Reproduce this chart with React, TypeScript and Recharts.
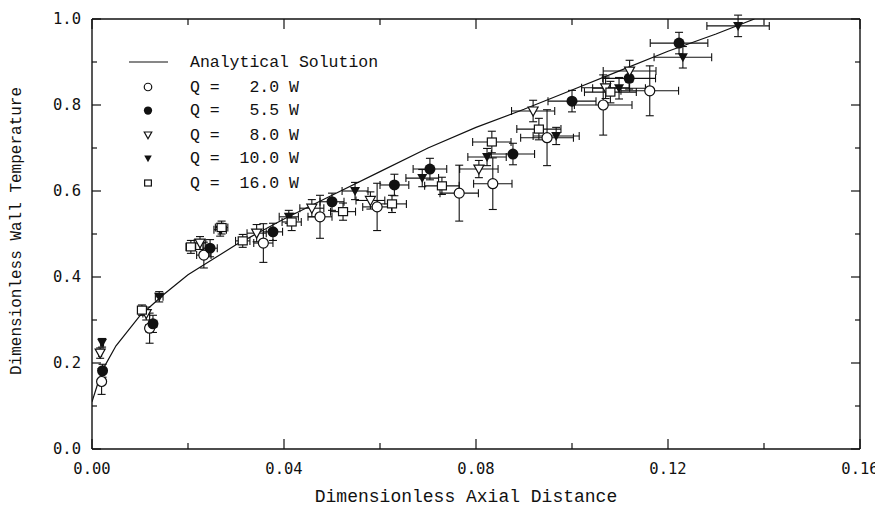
import { ErrorBar, Legend, Scatter, ScatterChart, XAxis, YAxis } from "recharts";

// axis ticks (minor + major), labels only on the major ones
const xTicks = [0, 0.02, 0.04, 0.06, 0.08, 0.1, 0.12, 0.14, 0.16];
const yTicks = [0, 0.1, 0.2, 0.3, 0.4, 0.5, 0.6, 0.7, 0.8, 0.9, 1.0];

// analytical solution
const curveX = [0, 0.002, 0.005, 0.01, 0.015, 0.02, 0.025, 0.03, 0.04, 0.05, 0.06, 0.07, 0.08, 0.09, 0.1, 0.11, 0.12, 0.13, 0.138];
const curveY = [0.11, 0.18, 0.24, 0.31, 0.36, 0.405, 0.44, 0.475, 0.535, 0.59, 0.645, 0.7, 0.748, 0.79, 0.835, 0.88, 0.925, 0.965, 1.0];

// Q = 2.0 W
const q2X = [0.002, 0.012, 0.0233, 0.0357, 0.0475, 0.0594, 0.0765, 0.0835, 0.0948, 0.1065, 0.1162];
const q2Y = [0.157, 0.281, 0.451, 0.479, 0.54, 0.563, 0.595, 0.617, 0.724, 0.8, 0.833];
const q2Ex = [0.0005, 0.0008, 0.0015, 0.002, 0.0025, 0.003, 0.004, 0.004, 0.0055, 0.006, 0.006];
const q2Ey = [0.03, 0.035, 0.03, 0.045, 0.05, 0.055, 0.065, 0.06, 0.065, 0.07, 0.058];

// Q = 5.5 W
const q55X = [0.0022, 0.0127, 0.0246, 0.0377, 0.05, 0.063, 0.0704, 0.0877, 0.1, 0.1119, 0.1223];
const q55Y = [0.182, 0.291, 0.467, 0.505, 0.575, 0.614, 0.651, 0.686, 0.809, 0.862, 0.944];
const q55Ex = [0.0003, 0.0008, 0.0015, 0.002, 0.0025, 0.003, 0.0035, 0.0045, 0.005, 0.0055, 0.006];
const q55Ey = [0.015, 0.02, 0.02, 0.02, 0.02, 0.025, 0.025, 0.025, 0.025, 0.025, 0.025];

// Q = 8.0 W
const q8X = [0.0017, 0.0113, 0.0225, 0.0343, 0.0458, 0.058, 0.0806, 0.0919, 0.107, 0.112];
const q8Y = [0.223, 0.315, 0.479, 0.502, 0.56, 0.578, 0.651, 0.786, 0.84, 0.879];
const q8Ex = [0.0003, 0.0007, 0.0012, 0.002, 0.0025, 0.003, 0.004, 0.0045, 0.005, 0.0055];
const q8Ey = [0.012, 0.015, 0.015, 0.02, 0.02, 0.02, 0.02, 0.025, 0.025, 0.025];

// Q = 10.0 W
const q10X = [0.0021, 0.014, 0.0267, 0.041, 0.0548, 0.0688, 0.0823, 0.0967, 0.1098, 0.1231, 0.1346];
const q10Y = [0.247, 0.354, 0.51, 0.54, 0.6, 0.63, 0.679, 0.728, 0.839, 0.911, 0.984];
const q10Ex = [0.0003, 0.0008, 0.0013, 0.002, 0.0027, 0.0034, 0.004, 0.0048, 0.0055, 0.006, 0.0065];
const q10Ey = [0.01, 0.012, 0.015, 0.015, 0.02, 0.02, 0.02, 0.02, 0.025, 0.025, 0.025];

// Q = 16.0 W
const q16X = [0.0104, 0.0206, 0.027, 0.0314, 0.0416, 0.0523, 0.0625, 0.0729, 0.0833, 0.0931, 0.108];
const q16Y = [0.323, 0.47, 0.515, 0.484, 0.528, 0.552, 0.57, 0.612, 0.714, 0.744, 0.83];
const q16Ex = [0.0006, 0.001, 0.0013, 0.0015, 0.002, 0.0026, 0.003, 0.0036, 0.004, 0.0046, 0.0054];
const q16Ey = [0.012, 0.015, 0.015, 0.015, 0.02, 0.02, 0.02, 0.02, 0.025, 0.025, 0.025];

const curve = curveX.map((x, i) => ({ x, y: curveY[i] }));
const zip = (xs: number[], ys: number[], exs: number[], eys: number[]) =>
  xs.map((x, i) => ({ x, y: ys[i], ex: exs[i], ey: eys[i] }));

const INK = "#111";
const tickFont = { fontFamily: "DejaVu Sans Mono", fontSize: 15.5, fill: INK };
const titleFont = { fontFamily: "Liberation Mono", fontSize: 18, fill: INK };

type Kind = "openCircle" | "dot" | "openTri" | "tri" | "openSquare";

function Marker({ kind, cx, cy, s = 1 }: { kind: Kind; cx: number; cy: number; s?: number }) {
  const sw = 1.2;
  if (kind === "openCircle") return <circle cx={cx} cy={cy} r={5 * s} fill="#fff" stroke={INK} strokeWidth={sw} />;
  if (kind === "dot") return <circle cx={cx} cy={cy} r={5.5 * s} fill={INK} />;
  if (kind === "openTri" || kind === "tri") {
    const w = 5 * s;
    const pts = `${cx - w},${cy - 4 * s} ${cx + w},${cy - 4 * s} ${cx},${cy + 5 * s}`;
    return kind === "tri" ? (
      <polygon points={pts} fill={INK} />
    ) : (
      <polygon points={pts} fill="#fff" stroke={INK} strokeWidth={sw} />
    );
  }
  return <rect x={cx - 4.5 * s} y={cy - 4 * s} width={9 * s} height={8 * s} fill="#fff" stroke={INK} strokeWidth={sw} />;
}

const series: { label: string; kind: Kind; data: ReturnType<typeof zip> }[] = [
  { label: "Q =   2.0 W", kind: "openCircle", data: zip(q2X, q2Y, q2Ex, q2Ey) },
  { label: "Q =   5.5 W", kind: "dot", data: zip(q55X, q55Y, q55Ex, q55Ey) },
  { label: "Q =   8.0 W", kind: "openTri", data: zip(q8X, q8Y, q8Ex, q8Ey) },
  { label: "Q =  10.0 W", kind: "tri", data: zip(q10X, q10Y, q10Ex, q10Ey) },
  { label: "Q =  16.0 W", kind: "openSquare", data: zip(q16X, q16Y, q16Ex, q16Ey) },
];

const isMajorX = (v: number) => Math.round(v * 100) % 4 === 0;
const isMajorY = (v: number) => Math.round(v * 10) % 2 === 0;

function BottomTick({ x, y, payload }: any) {
  const major = isMajorX(payload.value);
  return (
    <g>
      <line x1={x} x2={x} y1={y} y2={y - (major ? 10 : 6)} stroke={INK} strokeWidth={1.2} />
      {major && (
        <text x={x} y={y + 25} textAnchor="middle" style={tickFont}>
          {payload.value.toFixed(2)}
        </text>
      )}
    </g>
  );
}

function TopTick({ x, y, payload }: any) {
  const major = isMajorX(payload.value);
  return <line x1={x} x2={x} y1={y} y2={y + (major ? 10 : 6)} stroke={INK} strokeWidth={1.2} />;
}

function LeftTick({ x, y, payload }: any) {
  const major = isMajorY(payload.value);
  return (
    <g>
      <line x1={x} x2={x + (major ? 9 : 5)} y1={y} y2={y} stroke={INK} strokeWidth={1.2} />
      {major && (
        <text x={x - 11} y={y} textAnchor="end" dominantBaseline="central" style={tickFont}>
          {payload.value.toFixed(1)}
        </text>
      )}
    </g>
  );
}

function RightTick({ x, y, payload }: any) {
  const major = isMajorY(payload.value);
  return <line x1={x} x2={x - (major ? 9 : 5)} y1={y} y2={y} stroke={INK} strokeWidth={1.2} />;
}

function LegendBox() {
  const rowY = [62, 87, 110.5, 135, 158.5, 183];
  const text = { fontFamily: "Liberation Mono", fontSize: 16.5, fill: INK, whiteSpace: "pre" as const };
  return (
    <svg width={420} height={210} style={{ display: "block" }}>
      <line x1={129} x2={168} y1={rowY[0]} y2={rowY[0]} stroke={INK} strokeWidth={1.2} />
      <text x={190} y={rowY[0]} dominantBaseline="central" style={text}>
        Analytical Solution
      </text>
      {series.map((s, i) => (
        <g key={s.label}>
          <Marker kind={s.kind} cx={148} cy={rowY[i + 1]} s={0.75} />
          <text x={190} y={rowY[i + 1]} dominantBaseline="central" style={text}>
            {s.label}
          </text>
        </g>
      ))}
    </svg>
  );
}

export default function App() {
  const axisLine = { stroke: INK, strokeWidth: 1.4 };
  return (
    <div style={{ margin: -8 }}>
      <ScatterChart
        width={883}
        height={513}
        margin={{ top: 18, right: 22, bottom: 0, left: 0 }}
        style={{ overflow: "visible" }}
      >
        <XAxis
          type="number"
          dataKey="x"
          domain={[0, 0.16]}
          ticks={xTicks}
          allowDataOverflow
          height={64}
          axisLine={axisLine}
          tickLine={false}
          tickSize={0}
          tickMargin={0}
          tick={<BottomTick />}
          interval={0}
          label={{ value: "Dimensionless Axial Distance", position: "insideBottom", offset: 11, dx: -10, style: titleFont }}
        />
        <XAxis
          xAxisId="top"
          orientation="top"
          type="number"
          dataKey="x"
          domain={[0, 0.16]}
          ticks={xTicks}
          allowDataOverflow
          height={1}
          axisLine={axisLine}
          tickLine={false}
          tickSize={0}
          tickMargin={0}
          tick={<TopTick />}
          interval={0}
        />
        <YAxis
          type="number"
          dataKey="y"
          domain={[0, 1]}
          ticks={yTicks}
          allowDataOverflow
          width={92}
          axisLine={axisLine}
          tickLine={false}
          tickSize={0}
          tickMargin={0}
          tick={<LeftTick />}
          interval={0}
          label={{
            value: "Dimensionless Wall Temperature",
            angle: -90,
            position: "insideLeft",
            offset: 15,
            dy: -3,
            style: { ...titleFont, fontSize: 16, textAnchor: "middle" },
          }}
        />
        <YAxis
          yAxisId="right"
          orientation="right"
          type="number"
          dataKey="y"
          domain={[0, 1]}
          ticks={yTicks}
          allowDataOverflow
          width={1}
          axisLine={axisLine}
          tickLine={false}
          tickSize={0}
          tickMargin={0}
          tick={<RightTick />}
          interval={0}
        />
        {/* the curve sits on the mirrored top/right axes so they get drawn as the frame */}
        <Scatter
          name="Analytical Solution"
          xAxisId="top"
          yAxisId="right"
          data={curve}
          line={{ stroke: INK, strokeWidth: 1.2 }}
          lineType="joint"
          shape={() => <g />}
          isAnimationActive={false}
        />
        {series.map((s) => (
          <Scatter
            key={s.label}
            name={s.label}
            data={s.data}
            isAnimationActive={false}
            shape={(p: any) => <Marker kind={s.kind} cx={p.cx} cy={p.cy} />}
          >
            <ErrorBar dataKey="ey" direction="y" width={4} stroke={INK} strokeWidth={1.1} />
            <ErrorBar dataKey="ex" direction="x" width={4} stroke={INK} strokeWidth={1.1} />
          </Scatter>
        ))}
        <Legend
          layout="vertical"
          align="center"
          verticalAlign="middle"
          wrapperStyle={{ left: 0, top: 0, width: 420, height: 210 }}
          content={() => <LegendBox />}
        />
      </ScatterChart>
    </div>
  );
}
